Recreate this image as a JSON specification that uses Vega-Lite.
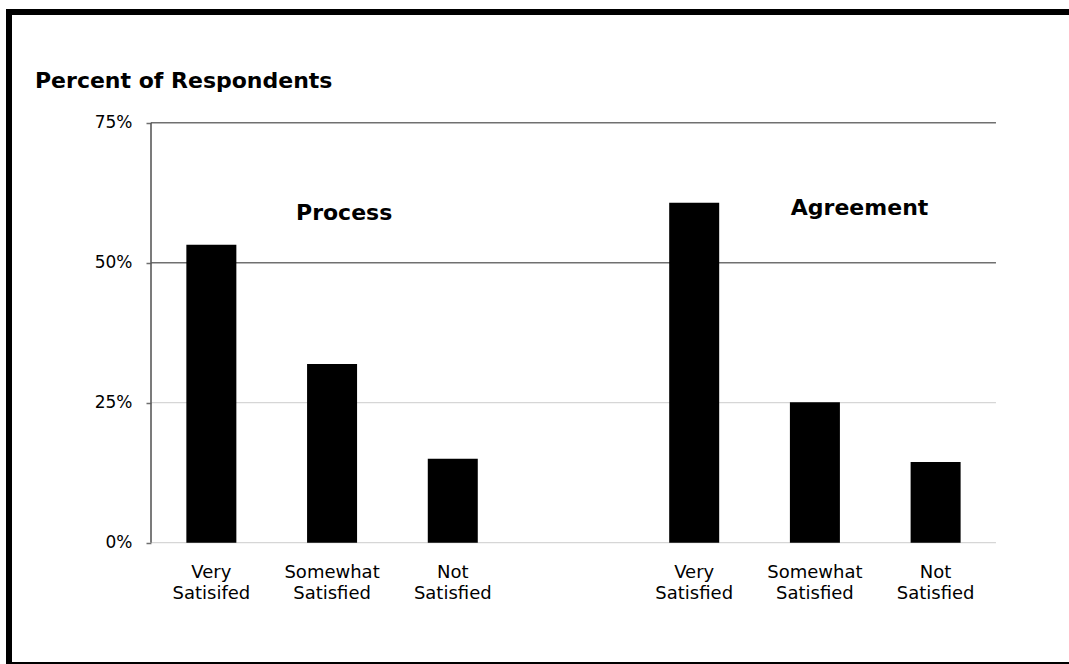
{
  "$schema": "https://vega.github.io/schema/vega-lite/v6.json",
  "autosize": "none",
  "width": 1066,
  "height": 653,
  "padding": {"left": 9, "top": 12, "right": -6, "bottom": -1},
  "background": "white",
  "config": {
    "view": {"stroke": "black", "strokeWidth": 6, "fill": "white"},
    "font": "DejaVu Sans",
    "scale": {"continuousPadding": 0},
    "axisY": {
      "orient": "left",
      "offset": -142,
      "format": ".0%",
      "domain": false,
      "grid": false,
      "ticks": true,
      "tickSize": 5,
      "tickColor": "#6f6f6f",
      "tickWidth": 1.5,
      "labelPadding": 14,
      "labelFont": "DejaVu Sans",
      "labelFontSize": 17,
      "labelColor": "black",
      "title": null
    }
  },
  "title": {
    "text": "Percent of Respondents",
    "anchor": "start",
    "frame": "group",
    "orient": "top",
    "offset": 0,
    "dx": 26,
    "dy": 98,
    "baseline": "alphabetic",
    "font": "DejaVu Sans",
    "fontSize": 22,
    "fontWeight": "bold",
    "color": "black"
  },
  "datasets": {
    "responses": [
      {"survey": "Process", "rating": "Very Satisifed", "slot": 1, "share": 0.532},
      {"survey": "Process", "rating": "Somewhat Satisfied", "slot": 2, "share": 0.319},
      {"survey": "Process", "rating": "Not Satisfied", "slot": 3, "share": 0.150},
      {"survey": "Agreement", "rating": "Very Satisfied", "slot": 5, "share": 0.607},
      {"survey": "Agreement", "rating": "Somewhat Satisfied", "slot": 6, "share": 0.251},
      {"survey": "Agreement", "rating": "Not Satisfied", "slot": 7, "share": 0.144}
    ],
    "gridlines": [
      {"level": 0},
      {"level": 0.25},
      {"level": 0.5},
      {"level": 0.75}
    ]
  },
  "layer": [
    {
      "data": {"name": "gridlines"},
      "transform": [{"filter": "datum.level < 0.5"}],
      "mark": {"type": "rule", "color": "#d6d6d6", "strokeWidth": 1.2},
      "encoding": {
        "x": {"datum": 0.5, "type": "quantitative", "scale": {"domain": [-0.6764, 8.1547], "nice": false, "zero": false, "padding": 0}, "axis": null},
        "x2": {"datum": 7.5},
        "y": {"field": "level", "type": "quantitative", "scale": {"domain": [-0.2184, 0.9477], "nice": false, "zero": false}, "axis": {"values": [0, 0.25, 0.5, 0.75], "title": null}}
      }
    },
    {
      "data": {"name": "gridlines"},
      "transform": [{"filter": "datum.level >= 0.5"}],
      "mark": {"type": "rule", "color": "#707070", "strokeWidth": 1.6},
      "encoding": {
        "x": {"datum": 0.5, "type": "quantitative", "scale": {"domain": [-0.6764, 8.1547], "nice": false, "zero": false, "padding": 0}, "axis": null},
        "x2": {"datum": 7.5},
        "y": {"field": "level", "type": "quantitative", "scale": {"domain": [-0.2184, 0.9477], "nice": false, "zero": false}, "axis": {"values": [0, 0.25, 0.5, 0.75], "title": null}}
      }
    },
    {
      "data": {"name": "gridlines"},
      "mark": {"type": "rule", "color": "#5a5a5a", "strokeWidth": 1.6},
      "encoding": {
        "x": {"datum": 0.5, "type": "quantitative", "scale": {"domain": [-0.6764, 8.1547], "nice": false, "zero": false, "padding": 0}, "axis": null},
        "y": {"aggregate": "min", "field": "level", "type": "quantitative", "scale": {"domain": [-0.2184, 0.9477], "nice": false, "zero": false}, "axis": {"values": [0, 0.25, 0.5, 0.75], "title": null}},
        "y2": {"aggregate": "max", "field": "level"}
      }
    },
    {
      "data": {"name": "responses"},
      "mark": {"type": "bar", "width": 50, "color": "black"},
      "encoding": {
        "x": {"field": "slot", "type": "quantitative", "scale": {"domain": [-0.6764, 8.1547], "nice": false, "zero": false, "padding": 0}, "axis": null},
        "y": {"field": "share", "type": "quantitative", "scale": {"domain": [-0.2184, 0.9477], "nice": false, "zero": false}, "axis": {"values": [0, 0.25, 0.5, 0.75], "title": null}},
        "y2": {"datum": 0}
      }
    },
    {
      "data": {"name": "responses"},
      "mark": {
        "type": "text",
        "align": "center",
        "baseline": "top",
        "dy": 21,
        "lineBreak": " ",
        "lineHeight": 21,
        "font": "DejaVu Sans",
        "fontSize": 18,
        "color": "black"
      },
      "encoding": {
        "x": {"field": "slot", "type": "quantitative", "scale": {"domain": [-0.6764, 8.1547], "nice": false, "zero": false, "padding": 0}, "axis": null},
        "y": {"datum": 0, "type": "quantitative", "scale": {"domain": [-0.2184, 0.9477], "nice": false, "zero": false}, "axis": {"values": [0, 0.25, 0.5, 0.75], "title": null}},
        "text": {"field": "rating"}
      }
    },
    {
      "data": {"name": "responses"},
      "transform": [
        {"filter": "datum.survey === 'Process'"},
        {"aggregate": [{"op": "count", "as": "n"}], "groupby": ["survey"]}
      ],
      "mark": {"type": "text", "align": "center", "baseline": "alphabetic", "font": "DejaVu Sans", "fontSize": 22, "fontWeight": "bold", "color": "black"},
      "encoding": {
        "x": {"datum": 2.1, "type": "quantitative", "scale": {"domain": [-0.6764, 8.1547], "nice": false, "zero": false, "padding": 0}, "axis": null},
        "y": {"datum": 0.576, "type": "quantitative", "scale": {"domain": [-0.2184, 0.9477], "nice": false, "zero": false}, "axis": {"values": [0, 0.25, 0.5, 0.75], "title": null}},
        "text": {"field": "survey"}
      }
    },
    {
      "data": {"name": "responses"},
      "transform": [
        {"filter": "datum.survey === 'Agreement'"},
        {"aggregate": [{"op": "count", "as": "n"}], "groupby": ["survey"]}
      ],
      "mark": {"type": "text", "align": "center", "baseline": "alphabetic", "font": "DejaVu Sans", "fontSize": 22, "fontWeight": "bold", "color": "black"},
      "encoding": {
        "x": {"datum": 6.37, "type": "quantitative", "scale": {"domain": [-0.6764, 8.1547], "nice": false, "zero": false, "padding": 0}, "axis": null},
        "y": {"datum": 0.586, "type": "quantitative", "scale": {"domain": [-0.2184, 0.9477], "nice": false, "zero": false}, "axis": {"values": [0, 0.25, 0.5, 0.75], "title": null}},
        "text": {"field": "survey"}
      }
    }
  ]
}
